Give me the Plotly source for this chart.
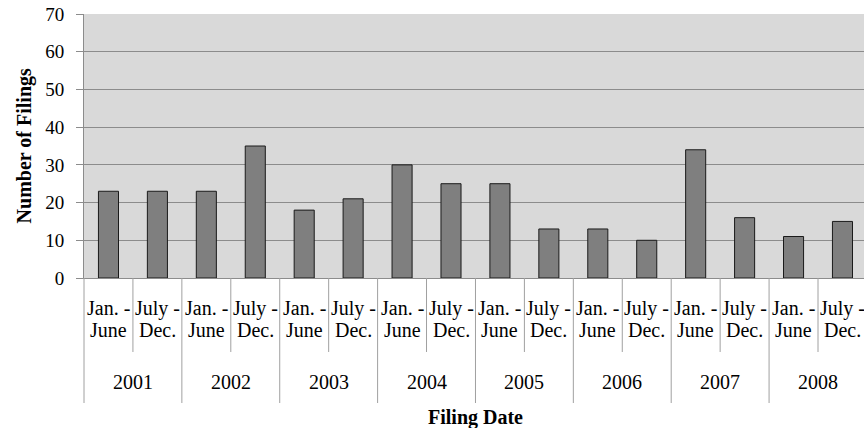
import plotly.graph_objects as go

years = ["2001", "2002", "2003", "2004", "2005", "2006", "2007", "2008"]
halves_line1 = ["Jan. -", "July -"]
halves_line2 = ["June", "Dec."]
filings = [23, 23, 23, 35, 18, 21, 30, 25, 25, 13, 13, 10, 34, 16, 11, 15]
y_ticks = [0, 10, 20, 30, 40, 50, 60, 70]

categories = [f"{y} {h1} {h2}" for y in years for h1, h2 in zip(halves_line1, halves_line2)]

FONT = "Liberation Serif, Times New Roman, serif"
GRID = "#8c8c8c"
DIV = "#a0a0a0"

fig = go.Figure()
fig.add_trace(go.Bar(
    x=categories, y=filings,
    marker=dict(color="#7f7f7f", line=dict(color="#1a1a1a", width=1)),
    width=0.41,
    showlegend=False,
))

shapes = []
annotations = []
n = len(categories)
for i in range(n):
    long_line = (i % 2 == 0)
    y1 = -0.4735 if long_line else -0.2803
    if i == 0:
        shapes.append(dict(type="line", xref="x domain", yref="paper", x0=0, x1=0,
                           y0=0, y1=y1, line=dict(color=DIV, width=1)))
    else:
        shapes.append(dict(type="line", xref="x", yref="paper", x0=i - 0.5, x1=i - 0.5,
                           y0=0, y1=y1, line=dict(color=DIV, width=1)))

LBL = 20
for i in range(n):
    h = i % 2
    annotations.append(dict(xref="x", yref="paper", x=i, y=-0.114, text=halves_line1[h],
                            showarrow=False, xanchor="center", yanchor="middle",
                            font=dict(family=FONT, size=LBL, color="#000")))
    annotations.append(dict(xref="x", yref="paper", x=i, y=-0.197, text=halves_line2[h],
                            showarrow=False, xanchor="center", yanchor="middle",
                            font=dict(family=FONT, size=LBL, color="#000")))
for k, yr in enumerate(years):
    annotations.append(dict(xref="x", yref="paper", x=2 * k + 0.5, y=-0.394, text=yr,
                            showarrow=False, xanchor="center", yanchor="middle",
                            font=dict(family=FONT, size=LBL, color="#000")))

annotations.append(dict(xref="x", yref="paper", x=7.5, y=-0.527, text="<b>Filing Date</b>",
                        showarrow=False, xanchor="center", yanchor="middle",
                        font=dict(family=FONT, size=20, color="#000")))
annotations.append(dict(xref="paper", yref="paper", x=-0.0764, y=0.5, text="<b>Number of Filings</b>",
                        textangle=-90, showarrow=False, xanchor="center", yanchor="middle",
                        font=dict(family=FONT, size=20, color="#000")))

fig.update_layout(
    width=864, height=428,
    margin=dict(l=84, r=0, t=14, b=150),
    paper_bgcolor="white",
    plot_bgcolor="#d9d9d9",
    shapes=shapes,
    annotations=annotations,
    xaxis=dict(
        type="category", range=[-0.5, 15.44],
        showticklabels=False, ticks="", showgrid=False,
        showline=True, linecolor=GRID, linewidth=1,
        fixedrange=True,
    ),
    yaxis=dict(
        range=[0, 70], tickvals=y_ticks,
        showgrid=True, gridcolor=GRID, gridwidth=1,
        showline=True, linecolor=GRID, linewidth=1,
        ticks="outside", ticklen=7, tickcolor=GRID,
        ticklabelstandoff=8,
        tickfont=dict(family=FONT, size=19, color="#000"),
        zeroline=False,
    ),
)

fig.write_html("out.html", config={"displayModeBar": False},
               post_script="document.body.style.margin='0';document.body.style.overflow='hidden';")
